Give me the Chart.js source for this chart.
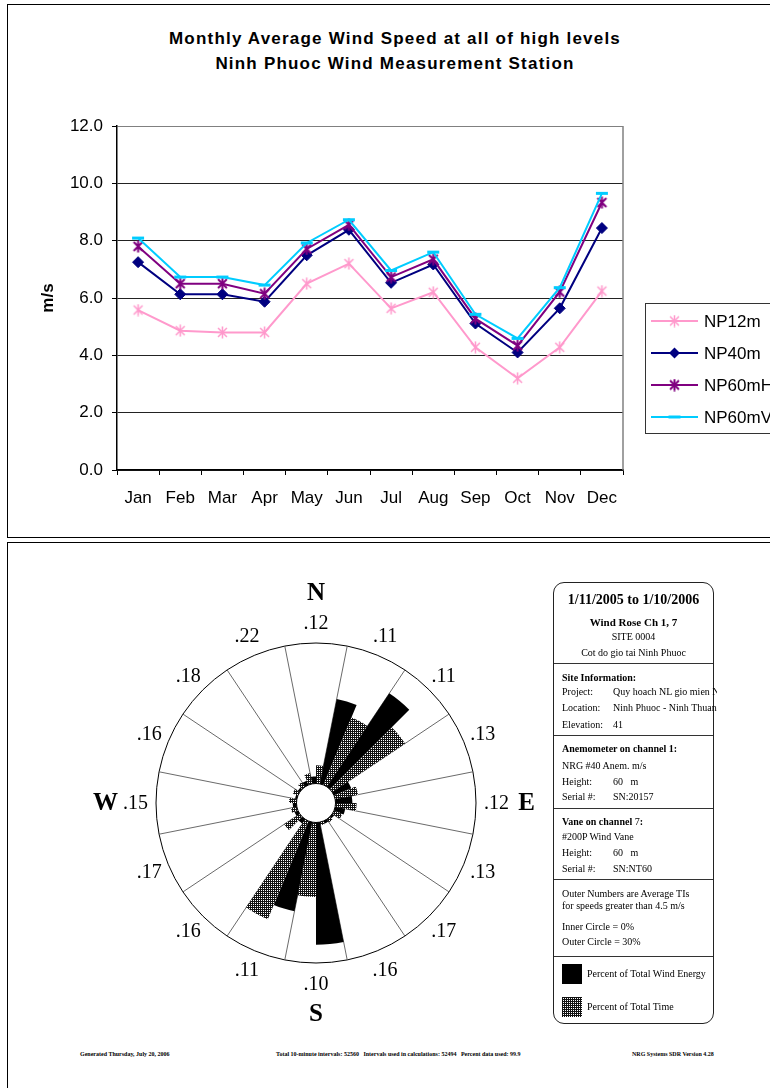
<!DOCTYPE html>
<html>
<head>
<meta charset="utf-8">
<script src="https://cdn.jsdelivr.net/npm/chart.js@4.4.1/dist/chart.umd.min.js"></script>
<style>
html,body{margin:0;padding:0;background:#fff;width:770px;height:1088px;overflow:hidden;}
body{position:relative;font-family:'Liberation Serif','Times New Roman',serif;color:#000;}
.panel{position:absolute;border:1.5px solid #000;box-sizing:border-box;}
#p1{left:7px;top:4px;width:830px;height:534px;}
#p2{left:7px;top:542px;width:830px;height:600px;}
#title{position:absolute;left:0;top:26px;width:790px;text-align:center;font:bold 17px 'Liberation Sans',Arial,sans-serif;letter-spacing:1.2px;line-height:25px;white-space:nowrap;}
#c1{position:absolute;left:0;top:0;}
#c2{position:absolute;left:76px;top:563px;}
#info{position:absolute;left:553px;top:582px;width:161px;height:442px;border:1px solid #222;border-radius:11px;box-sizing:border-box;background:transparent;z-index:2;}
#info .ln{position:absolute;line-height:14px;height:14px;white-space:nowrap;font-size:10px;}
#info .c{left:0;width:159px;text-align:center;}
#info .l{left:8px;}
#info .v{left:59px;width:104px;overflow:hidden;}
#info .hr{position:absolute;left:0;width:159px;height:0;border-top:1px solid #333;}
#info .sw{position:absolute;left:8px;width:20px;height:20px;}
.ft{position:absolute;top:1050px;font:bold 6px 'Liberation Serif','Times New Roman',serif;line-height:8px;white-space:nowrap;}
</style>
</head>
<body>
<div class="panel" id="p1"></div>
<div class="panel" id="p2"></div>
<div id="title">Monthly Average Wind Speed at all of high levels<br>Ninh Phuoc Wind Measurement Station</div>
<canvas id="c1" width="770" height="540"></canvas>
<canvas id="c2" width="480" height="480"></canvas>

<div id="info">
  <div class="ln c" style="top:10px;font-size:14px;font-weight:bold;">1/11/2005 to 1/10/2006</div>
  <div class="ln c" style="top:32px;font-size:11px;font-weight:bold;">Wind Rose Ch 1, 7</div>
  <div class="ln c" style="top:47px;">SITE 0004</div>
  <div class="ln c" style="top:63px;">Cot do gio tai Ninh Phuoc</div>
  <div class="hr" style="top:80px;"></div>
  <div class="ln l" style="top:88px;font-weight:bold;">Site Information:</div>
  <div class="ln l" style="top:102px;">Project:</div><div class="ln v" style="top:102px;">Quy hoach NL gio mien Nam</div>
  <div class="ln l" style="top:118px;">Location:</div><div class="ln v" style="top:118px;">Ninh Phuoc - Ninh Thuan</div>
  <div class="ln l" style="top:135px;">Elevation:</div><div class="ln v" style="top:135px;">41</div>
  <div class="hr" style="top:152px;"></div>
  <div class="ln l" style="top:159px;font-weight:bold;">Anemometer on channel 1:</div>
  <div class="ln l" style="top:176px;">NRG #40 Anem. m/s</div>
  <div class="ln l" style="top:192px;">Height:</div><div class="ln v" style="top:192px;">60&nbsp;&nbsp;&nbsp;m</div>
  <div class="ln l" style="top:207px;">Serial #:</div><div class="ln v" style="top:207px;">SN:20157</div>
  <div class="hr" style="top:225px;"></div>
  <div class="ln l" style="top:232px;"><b>Vane on channel</b> 7<b>:</b></div>
  <div class="ln l" style="top:247px;">#200P Wind Vane</div>
  <div class="ln l" style="top:263px;">Height:</div><div class="ln v" style="top:263px;">60&nbsp;&nbsp;&nbsp;m</div>
  <div class="ln l" style="top:279px;">Serial #:</div><div class="ln v" style="top:279px;">SN:NT60</div>
  <div class="hr" style="top:296px;"></div>
  <div class="ln l" style="top:304px;">Outer Numbers are Average TIs</div>
  <div class="ln l" style="top:316px;">for speeds greater than 4.5 m/s</div>
  <div class="ln l" style="top:337px;">Inner Circle = 0%</div>
  <div class="ln l" style="top:352px;">Outer Circle = 30%</div>
  <div class="hr" style="top:373px;"></div>
  <div class="sw" style="top:381px;background:#000;"></div>
  <div class="ln" style="left:33px;top:384px;">Percent of Total Wind Energy</div>
  <div class="sw" id="hatchSw" style="top:414px;"></div>
  <div class="ln" style="left:33px;top:417px;">Percent of Total Time</div>
</div>

<div class="ft" style="left:80px;">Generated Thursday, July 20, 2006</div>
<div class="ft" style="left:276px;">Total 10-minute intervals: 52560&nbsp;&nbsp; Intervals used in calculations: 52494&nbsp;&nbsp; Percent data used: 99.9</div>
<div class="ft" style="left:632px;">NRG Systems SDR Version 4.28</div>

<script>
// ---------------- DATA ----------------
const months = ['Jan','Feb','Mar','Apr','May','Jun','Jul','Aug','Sep','Oct','Nov','Dec'];
const np12m  = [5.58,4.86,4.80,4.80,6.50,7.20,5.64,6.20,4.28,3.20,4.28,6.24];
const np40m  = [7.25,6.13,6.13,5.87,7.49,8.38,6.53,7.17,5.11,4.10,5.64,8.44];
const np60mH = [7.80,6.50,6.50,6.15,7.71,8.55,6.73,7.35,5.28,4.34,6.21,9.33];
const np60mV = [8.09,6.73,6.73,6.45,7.92,8.73,6.96,7.60,5.43,4.59,6.36,9.65];
const seriesNames = ['NP12m','NP40m','NP60mH','NP60mV'];
const yMin = 0, yMax = 12, yStep = 2;

const directions = ['N','NNE','NE','ENE','E','ESE','SE','SSE','S','SSW','SW','WSW','W','WNW','NW','NNW'];
const energyPct = [1.5,18.5,24.0,4.0,3.6,2.2,0.5,0.6,26.1,19.4,1.1,0.8,0.8,0.4,0.5,1.0];
const timePct   = [3.9,15.6,18.7,5.0,4.5,1.9,0.8,0.7,15.9,22.7,4.0,1.3,1.6,1.2,1.2,2.3];
const tiLabels  = ['.12','.11','.11','.13','.12','.13','.17','.16','.10','.11','.16','.17','.15','.16','.18','.22'];
const compassLabels = ['N','E','S','W'];
const roseOuterPct = 30;   // outer circle = 30%
const roseInnerPct = 0;    // inner circle = 0%

// ---------------- HELPERS ----------------
function asterisk(color, size, lw) {
  const c = document.createElement('canvas'); c.width = c.height = size;
  const x = c.getContext('2d'); x.strokeStyle = color; x.lineWidth = lw;
  const m = size / 2, r = size / 2 - 0.5, d = r * 0.74;
  x.beginPath();
  x.moveTo(m, m - r); x.lineTo(m, m + r);
  x.moveTo(m - d, m - d); x.lineTo(m + d, m + d);
  x.moveTo(m - d, m + d); x.lineTo(m + d, m - d);
  x.stroke();
  return c;
}
const hatchTile = document.createElement('canvas'); hatchTile.width = hatchTile.height = 2;
(function(){ const p = hatchTile.getContext('2d'); p.fillStyle = '#111'; p.fillRect(0,0,2,2); p.fillStyle = '#fff'; p.fillRect(1,1,1,1); })();
const hatchPattern = hatchTile.getContext('2d').createPattern(hatchTile, 'repeat');
document.getElementById('hatchSw').style.background = 'url(' + hatchTile.toDataURL() + ') repeat';
document.getElementById('hatchSw').style.imageRendering = 'pixelated';

Chart.defaults.font.family = "'Liberation Sans', Arial, sans-serif";
Chart.defaults.color = '#000';

// ---------------- LINE CHART ----------------
const colors = ['#FF99CC', '#000080', '#800080', '#00CCFF'];
const styles = [asterisk('#FF99CC', 13, 1.5), 'rectRot', asterisk('#800080', 13, 2), 'line'];
const seriesData = [np12m, np40m, np60mH, np60mV];

const datasets = seriesData.map((d, i) => ({
  label: seriesNames[i],
  data: d,
  borderColor: colors[i],
  backgroundColor: colors[i],
  borderWidth: 2,
  tension: 0,
  fill: false,
  order: 3 - i,
  pointStyle: styles[i],
  pointRadius: i === 1 ? 5.5 : 6,
  pointBorderWidth: i === 3 ? 3 : 1,
  pointBorderColor: colors[i],
  pointBackgroundColor: colors[i]
}));

function drawMarker(ctx, ds, x, y) {
  const st = ds.pointStyle;
  ctx.save();
  if (typeof st === 'object') {
    ctx.drawImage(st, x - st.width / 2, y - st.height / 2);
  } else if (st === 'rectRot') {
    const r = ds.pointRadius;
    ctx.beginPath(); ctx.moveTo(x, y - r); ctx.lineTo(x + r, y); ctx.lineTo(x, y + r); ctx.lineTo(x - r, y); ctx.closePath();
    ctx.fillStyle = ds.pointBackgroundColor; ctx.fill();
  } else if (st === 'line') {
    const r = ds.pointRadius;
    ctx.beginPath(); ctx.moveTo(x - r, y); ctx.lineTo(x + r, y);
    ctx.strokeStyle = ds.pointBorderColor; ctx.lineWidth = ds.pointBorderWidth; ctx.stroke();
  }
  ctx.restore();
}

const boxLegend = {
  id: 'boxLegend',
  afterDraw(chart) {
    const ctx = chart.ctx;
    ctx.save();
    ctx.strokeStyle = '#333'; ctx.lineWidth = 1;
    ctx.strokeRect(645.5, 303.5, 200, 130);
    ctx.font = "17px 'Liberation Sans', Arial, sans-serif";
    ctx.textBaseline = 'middle'; ctx.textAlign = 'left'; ctx.fillStyle = '#000';
    chart.data.datasets.forEach((ds, i) => {
      const y = 321 + i * 32;
      ctx.beginPath(); ctx.moveTo(651, y); ctx.lineTo(698, y);
      ctx.strokeStyle = ds.borderColor; ctx.lineWidth = ds.borderWidth; ctx.stroke();
      drawMarker(ctx, ds, 674.5, y);
      ctx.fillStyle = '#000';
      ctx.fillText(ds.label, 704, y + 1);
    });
    ctx.restore();
  }
};
const plotFrame = {
  id: 'plotFrame',
  beforeDatasetsDraw(chart) {
    const {ctx, chartArea: a} = chart;
    ctx.save(); ctx.strokeStyle = '#808080'; ctx.lineWidth = 1.5;
    ctx.beginPath(); ctx.moveTo(a.right, a.top); ctx.lineTo(a.right, a.bottom); ctx.stroke();
    ctx.restore();
  }
};

new Chart(document.getElementById('c1'), {
  type: 'line',
  data: { labels: months, datasets: datasets },
  options: {
    responsive: false, animation: false,
    layout: { padding: { left: 8, right: 147, top: 126, bottom: 30 } },
    plugins: { legend: { display: false }, tooltip: { enabled: false }, title: { display: false } },
    scales: {
      x: {
        offset: true,
        grid: { offset: true, drawOnChartArea: false, drawTicks: true, tickLength: 5, color: '#000' },
        border: { color: '#000', width: 1.5 },
        ticks: { font: { size: 17 }, color: '#000', padding: 13, maxRotation: 0, autoSkip: false },
        afterFit: s => { s.height = 40; }
      },
      y: {
        min: yMin, max: yMax,
        grid: { color: c => (c.tick && c.tick.value === yMax) ? '#808080' : '#222', lineWidth: 1, tickLength: 5, tickColor: '#000' },
        border: { color: '#000', width: 1.5 },
        ticks: { stepSize: yStep, font: { size: 17 }, color: '#000', padding: 9, callback: v => Number(v).toFixed(1) },
        title: { display: true, text: 'm/s', font: { size: 17, weight: 'bold' }, color: '#000', padding: { top: 30, bottom: 0 } },
        afterFit: s => { s.width = 109; }
      }
    }
  },
  plugins: [plotFrame, boxLegend]
});

// ---------------- WIND ROSE ----------------
const roseLabels = [], roseValues = [], roseColors = [];
directions.forEach((d, k) => {
  roseLabels.push(d + ' energy', d + ' time');
  roseValues.push(energyPct[k], timePct[k]);
  roseColors.push('#000', hatchPattern);
});
const innerFrac = 19.5 / 160;
const rMin = (roseInnerPct - innerFrac * roseOuterPct) / (1 - innerFrac);

const roseDecor = {
  id: 'roseDecor',
  afterDatasetsDraw(chart) {
    const s = chart.scales.r, ctx = chart.ctx;
    const r0 = s.getDistanceFromCenterForValue(roseInnerPct);
    ctx.save();
    ctx.beginPath(); ctx.arc(s.xCenter, s.yCenter, r0, 0, Math.PI * 2);
    ctx.fillStyle = '#fff'; ctx.fill();
    ctx.lineWidth = 1; ctx.strokeStyle = '#000'; ctx.stroke();
    const R = s.getDistanceFromCenterForValue(roseOuterPct);
    ctx.fillStyle = '#000'; ctx.textAlign = 'center'; ctx.textBaseline = 'middle';
    ctx.font = "20px 'Liberation Serif', 'Times New Roman', serif";
    tiLabels.forEach((t, k) => {
      const p = s.getPointPosition(2 * k + 1, R + 20.5);
      ctx.fillText(t, p.x, p.y + 1);
    });
    ctx.font = "bold 25px 'Liberation Serif', 'Times New Roman', serif";
    compassLabels.forEach((c, j) => {
      const p = s.getPointPosition(8 * j + 1, R + 50.5);
      ctx.fillText(c, p.x, p.y + 1);
    });
    ctx.restore();
  }
};

new Chart(document.getElementById('c2'), {
  type: 'polarArea',
  data: { labels: roseLabels, datasets: [{ data: roseValues, backgroundColor: roseColors, borderWidth: 0 }] },
  options: {
    responsive: false, animation: false,
    layout: { padding: 80 },
    plugins: { legend: { display: false }, tooltip: { enabled: false } },
    scales: {
      r: {
        min: rMin, max: roseOuterPct, startAngle: -11.25,
        ticks: { display: false },
        pointLabels: { display: false },
        grid: { circular: true, color: c => (c.tick && c.tick.value === roseOuterPct) ? '#000' : 'rgba(0,0,0,0)', lineWidth: 1 },
        angleLines: { display: true, color: c => c.index % 2 === 0 ? '#444' : 'rgba(0,0,0,0)', lineWidth: c => c.index % 2 === 0 ? 0.8 : 0 },
        afterBuildTicks: s => { s.ticks = [{ value: rMin }, { value: roseOuterPct }]; }
      }
    }
  },
  plugins: [roseDecor]
});
</script>
</body>
</html>
